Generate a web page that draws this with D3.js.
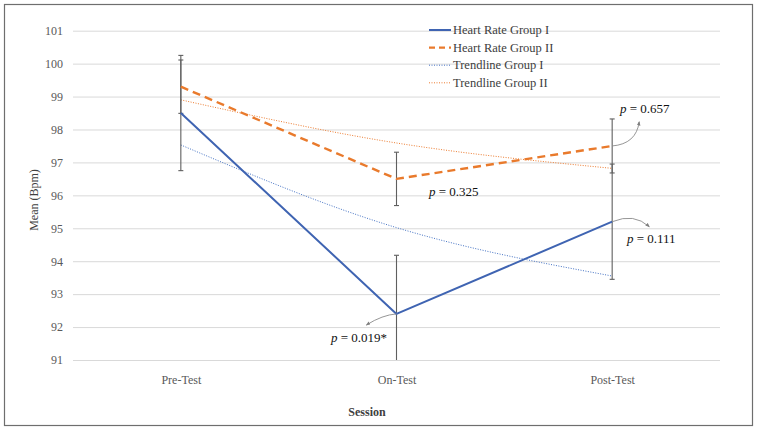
<!DOCTYPE html>
<html lang="en">
<head>
<meta charset="UTF-8">
<title>Heart rate by session</title>
<script src="https://d3js.org/d3.v7.min.js"></script>
<style>
  body { margin: 0; background: #fff; }
  svg { display: block; font-family: "Liberation Serif", "DejaVu Serif", serif; }
</style>
</head>
<body>
<svg id="chart"></svg>
<script>
    const width = 757;
    const height = 429;

    // data
    var sessions = ["Pre-Test", "On-Test", "Post-Test"];
    var groupI = [98.5, 92.4, 95.2];
    var groupII = [99.3, 96.5, 97.5];
    var errI = [1.75, 1.78, 1.75];
    var errII = [0.81, 0.81, 0.82];
    var trendI = [97.53, 95.02, 93.55];
    var trendII = [98.9, 97.59, 96.82];
    var yTicks = [91, 92, 93, 94, 95, 96, 97, 98, 99, 100, 101];
    var pLabels = ["p = 0.019*", "p = 0.325", "p = 0.111", "p = 0.657"];

    const blue = "#3F64B2";
    const orange = "#E97A2C";

    const svg = d3.select("#chart")
        .attr("width", width)
        .attr("height", height);

    // outer frame
    svg.append("rect")
        .attr("x", 4.5).attr("y", 4.5)
        .attr("width", 748).attr("height", 421)
        .attr("fill", "#fff")
        .attr("stroke", "#6e6e6e")
        .attr("stroke-width", 1.2);

    const x = d3.scalePoint()
        .domain(sessions)
        .range([73, 720])
        .padding(0.5);

    const y = d3.scaleLinear()
        .domain([91, 101])
        .range([360, 30.7]);

    // gridlines + y labels
    const yAxis = svg.append("g")
        .attr("transform", "translate(73,0)")
        .call(d3.axisLeft(y).tickValues(yTicks).tickSize(-(720 - 73)).tickPadding(10))
        .call(g => g.select(".domain").remove())
        .attr("font-family", null);
    yAxis.selectAll(".tick line").attr("stroke", "#d9d9d9").attr("stroke-width", 1);
    yAxis.selectAll(".tick text")
        .attr("fill", "#595959")
        .style("font-size", "12px");

    // x labels
    const xAxis = svg.append("g")
        .attr("transform", "translate(0,360)")
        .call(d3.axisBottom(x).tickSize(0).tickPadding(15))
        .call(g => g.select(".domain").remove())
        .attr("font-family", null);
    xAxis.selectAll(".tick text")
        .attr("fill", "#595959")
        .style("font-size", "12px");

    // axis titles
    svg.append("text")
        .attr("x", 367).attr("y", 416)
        .attr("text-anchor", "middle")
        .attr("font-weight", "bold")
        .attr("font-size", 12)
        .attr("fill", "#404040")
        .text("Session");

    svg.append("text")
        .attr("transform", "translate(38,200) rotate(-90)")
        .attr("text-anchor", "middle")
        .attr("font-size", 12)
        .attr("fill", "#404040")
        .text("Mean (Bpm)");

    // trendlines
    const curveLine = d3.line()
        .x((d, i) => x(sessions[i]))
        .y(d => y(d))
        .curve(d3.curveNatural);

    svg.append("path")
        .attr("d", curveLine(trendI))
        .attr("fill", "none")
        .attr("stroke", "#4472C4")
        .attr("stroke-width", 1)
        .attr("stroke-dasharray", "1,1.5");

    svg.append("path")
        .attr("d", curveLine(trendII))
        .attr("fill", "none")
        .attr("stroke", "#ED7D31")
        .attr("stroke-width", 1)
        .attr("stroke-dasharray", "1,1.5");

    // error bars
    function errorBars(vals, errs) {
        const g = svg.append("g")
            .attr("stroke", "#5f5f5f")
            .attr("stroke-width", 1.1);
        vals.forEach((v, i) => {
            const cx = x(sessions[i]);
            const lo = Math.max(v - errs[i], 91);
            const hi = v + errs[i];
            g.append("line")
                .attr("x1", cx).attr("x2", cx)
                .attr("y1", y(lo)).attr("y2", y(hi));
            [lo, hi].forEach(e => {
                if (e === 91) return;
                g.append("line")
                    .attr("x1", cx - 2.5).attr("x2", cx + 2.5)
                    .attr("y1", y(e)).attr("y2", y(e));
            });
        });
    }
    errorBars(groupI, errI);
    errorBars(groupII, errII);

    // main lines
    const line = d3.line()
        .x((d, i) => x(sessions[i]))
        .y(d => y(d));

    svg.append("path")
        .attr("d", line(groupII))
        .attr("fill", "none")
        .attr("stroke", orange)
        .attr("stroke-width", 2.4)
        .attr("stroke-dasharray", "8,5");

    svg.append("path")
        .attr("d", line(groupI))
        .attr("fill", "none")
        .attr("stroke", blue)
        .attr("stroke-width", 2)
        .attr("stroke-linejoin", "round");

    // legend
    const legend = [
        {name: "Heart Rate Group I", color: blue, w: 2, dash: null},
        {name: "Heart Rate Group II", color: orange, w: 2.4, dash: "6,4"},
        {name: "Trendline Group I", color: "#4472C4", w: 1, dash: "1,1.5"},
        {name: "Trendline Group II", color: "#ED7D31", w: 1, dash: "1,1.5"}
    ];
    const lg = svg.append("g");
    legend.forEach((d, i) => {
        const ly = 30 + i * 17.6;
        lg.append("line")
            .attr("x1", 429).attr("x2", 451)
            .attr("y1", ly).attr("y2", ly)
            .attr("stroke", d.color)
            .attr("stroke-width", d.w)
            .attr("stroke-dasharray", d.dash);
        lg.append("text")
            .attr("x", 453).attr("y", ly + 4)
            .attr("font-size", 12.5)
            .attr("fill", "#404040")
            .text(d.name);
    });

    // p-value annotations
    const notes = [
        {label: pLabels[0], tx: 331, ty: 342, from: [1, groupI[1]], path: [[-14, 1], [-30, 11]]},
        {label: pLabels[1], tx: 429, ty: 196, from: null},
        {label: pLabels[2], tx: 627, ty: 243, from: [2, groupI[2]], path: [[22, -9], [37, 5]]},
        {label: pLabels[3], tx: 620, ty: 113, from: [2, groupII[2]], path: [[24, -2], [27, -24]]}
    ];

    svg.append("defs").append("marker")
        .attr("id", "ah")
        .attr("viewBox", "0 0 10 10")
        .attr("refX", 8).attr("refY", 5)
        .attr("markerWidth", 5).attr("markerHeight", 5)
        .attr("orient", "auto")
        .append("path")
        .attr("d", "M0,1 L10,5 L0,9 Z")
        .attr("fill", "#7f7f7f");

    notes.forEach(n => {
        const t = svg.append("text")
            .attr("x", n.tx).attr("y", n.ty)
            .attr("font-size", 13)
            .attr("fill", "#111");
        t.append("tspan").attr("font-style", "italic").text(n.label.slice(0, 1));
        t.append("tspan").text(n.label.slice(1));

        if (n.from) {
            const sx = x(sessions[n.from[0]]);
            const sy = y(n.from[1]);
            const c = n.path[0], e = n.path[1];
            svg.append("path")
                .attr("d", `M${sx},${sy} Q${sx + c[0]},${sy + c[1]} ${sx + e[0]},${sy + e[1]}`)
                .attr("fill", "none")
                .attr("stroke", "#8a8a8a")
                .attr("stroke-width", 0.9)
                .attr("marker-end", "url(#ah)");
        }
    });
</script>
</body>
</html>
